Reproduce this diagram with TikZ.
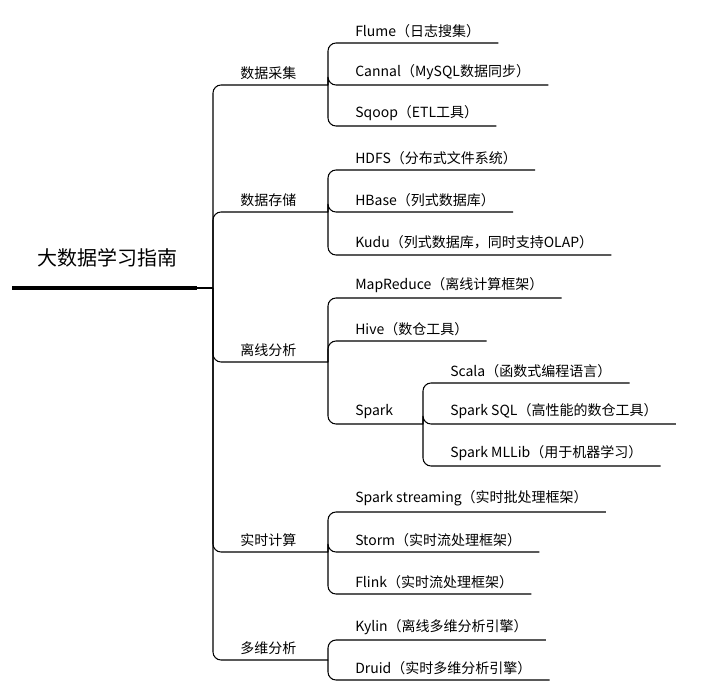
\documentclass[tikz,border=0pt]{standalone}
\usepackage{fontspec}
\setmainfont{Noto Sans CJK SC}
\usetikzlibrary{positioning}
\tikzset{
    lv1/.style={anchor=south west, inner xsep=13.5pt, inner ysep=4pt, font=\fontsize{10.5}{12}\selectfont},
    lv2/.style={anchor=south west, inner xsep=13.5pt, inner ysep=4pt, font=\fontsize{10.5}{12}\selectfont},
    link/.style={line width=0.8pt, rounded corners=6pt},
}
\begin{document}
\begin{tikzpicture}[x=0.75pt,y=-0.75pt]
    \useasboundingbox (0,0) rectangle (708,696);
    % root
    \node[font=\fontsize{15}{18}\selectfont] (root) at (107,258) {大数据学习指南};
    \coordinate (rootL) at (12,288);
    \coordinate (rootR) at (197,288);
    \coordinate (r) at (213,288);
    \draw[line width=3pt] (rootL) -- (rootR);
    \draw[link] (rootR) -- (r);

    % first level
    \node[lv1] (caiji) at (222,85) {数据采集};
    \node[lv1] (cunchu) at (222,212) {数据存储};
    \node[lv1] (lixian) at (222,362) {离线分析};
    \node[lv1] (shishi) at (222,552) {实时计算};
    \node[lv1] (duowei) at (222,660) {多维分析};
    \coordinate (caijiJ) at (328,85);
    \coordinate (cunchuJ) at (328,212);
    \coordinate (lixianJ) at (328,362);
    \coordinate (shishiJ) at (328,552);
    \coordinate (duoweiJ) at (328,660);
    \foreach \j in {caijiJ,cunchuJ,lixianJ,shishiJ,duoweiJ}
        \draw[link] (r) |- (\j);

    % 数据采集
    \node[lv2] (flume) at (337,43) {Flume（日志搜集）};
    \node[lv2] (cannal) at (337,85) {Cannal（MySQL数据同步）};
    \node[lv2] (sqoop) at (337,126) {Sqoop（ETL工具）};
    \foreach \c in {flume,cannal,sqoop}
        \draw[link] (caijiJ) |- (\c.south east);

    % 数据存储
    \node[lv2] (hdfs) at (337,170) {HDFS（分布式文件系统）};
    \node[lv2] (hbase) at (337,212) {HBase（列式数据库）};
    \node[lv2] (kudu) at (337,255) {Kudu（列式数据库，同时支持OLAP）};
    \foreach \c in {hdfs,hbase,kudu}
        \draw[link] (cunchuJ) |- (\c.south east);

    % 离线分析
    \node[lv2] (mapreduce) at (337,298) {MapReduce（离线计算框架）};
    \node[lv2] (hive) at (337,341) {Hive（数仓工具）};
    \node[lv2] (spark) at (337,424) {Spark};
    \coordinate (sparkJ) at (423,424);
    \foreach \c in {mapreduce.south east,hive.south east,sparkJ}
        \draw[link] (lixianJ) |- (\c);

    % Spark
    \node[lv2] (scala) at (432,383) {Scala（函数式编程语言）};
    \node[lv2] (sparksql) at (432,424) {Spark SQL（高性能的数仓工具）};
    \node[lv2] (mllib) at (432,466) {Spark MLLib（用于机器学习）};
    \foreach \c in {scala,sparksql,mllib}
        \draw[link] (sparkJ) |- (\c.south east);

    % 实时计算
    \node[lv2] (streaming) at (337,512) {Spark streaming（实时批处理框架）};
    \node[lv2] (storm) at (337,552) {Storm（实时流处理框架）};
    \node[lv2] (flink) at (337,594) {Flink（实时流处理框架）};
    \foreach \c in {streaming,storm,flink}
        \draw[link] (shishiJ) |- (\c.south east);

    % 多维分析
    \node[lv2] (kylin) at (337,640) {Kylin（离线多维分析引擎）};
    \node[lv2] (druid) at (337,680) {Druid（实时多维分析引擎）};
    \foreach \c in {kylin,druid}
        \draw[link] (duoweiJ) |- (\c.south east);
\end{tikzpicture}
\end{document}
